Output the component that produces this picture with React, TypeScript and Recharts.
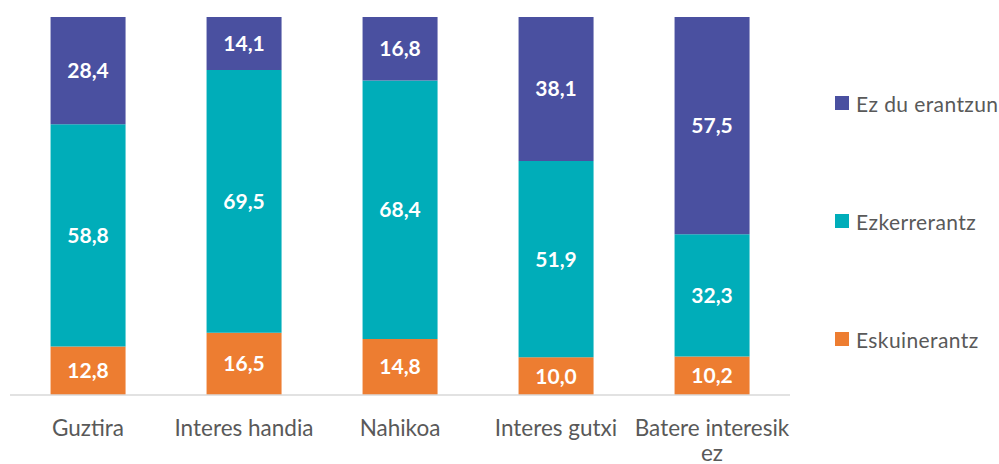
import { BarChart, Bar, XAxis, YAxis, LabelList } from "recharts";

const categories = ["Guztira", "Interes handia", "Nahikoa", "Interes gutxi", "Batere interesik ez"];
const eskuinerantz = [12.8, 16.5, 14.8, 10.0, 10.2];
const ezkerrerantz = [58.8, 69.5, 68.4, 51.9, 32.3];
const ezDuErantzun = [28.4, 14.1, 16.8, 38.1, 57.5];

const seriesNames = ["Ez du erantzun", "Ezkerrerantz", "Eskuinerantz"];
const COLORS: Record<string, string> = {
  "Ez du erantzun": "#4a50a0",
  Ezkerrerantz: "#00adb9",
  Eskuinerantz: "#ed7d31",
};

const FONT = "Lato, 'Open Sans', sans-serif";

const data = categories.map((c, i) => ({
  name: c,
  esk: eskuinerantz[i],
  ezk: ezkerrerantz[i],
  ezd: ezDuErantzun[i],
}));

const fmt = (v: any) => Number(v).toFixed(1).replace(".", ",");

function CatTick({ x, y, payload }: any) {
  // wrap the long label the way the original does
  const lines = payload.value === "Batere interesik ez" ? ["Batere interesik", "ez"] : [payload.value];
  return (
    <text x={x} y={y} textAnchor="middle" fill="#595959" fontSize={22.5} fontFamily={FONT}>
      {lines.map((l: string, i: number) => (
        <tspan key={i} x={x} dy={i === 0 ? 33 : 25}>
          {l}
        </tspan>
      ))}
    </text>
  );
}

function LegendBox() {
  return (
    <div style={{ position: "absolute", left: 835, top: 89, width: 164, fontFamily: FONT, fontSize: 21, color: "#595959" }}>
      {seriesNames.map((n, i) => (
        <div key={n} style={{ display: "flex", alignItems: "center", height: 28, marginTop: i === 0 ? 0 : 90, whiteSpace: "nowrap" }}>
          <span style={{ width: 14, height: 14, flexShrink: 0, background: COLORS[n], display: "inline-block", marginRight: 7 }} />
          <span style={{ letterSpacing: 0.4 }}>{n}</span>
        </div>
      ))}
    </div>
  );
}

export default function App() {
  const labelProps = { fill: "#ffffff", fontSize: 21, fontWeight: 700, fontFamily: FONT };
  return (
    <div style={{ position: "absolute", left: 0, top: 0, width: 999, height: 464, background: "#fff" }}>
      <BarChart width={999} height={464} data={data} margin={{ top: 17, right: 209, left: 10, bottom: 0 }} barCategoryGap="26%">
        <XAxis
          dataKey="name"
          height={69}
          tickLine={false}
          axisLine={{ stroke: "#d9d9d9", strokeWidth: 1.5 }}
          interval={0}
          tick={<CatTick />}
        />
        <YAxis hide domain={[0, 100]} allowDataOverflow />
        <Bar dataKey="esk" name="Eskuinerantz" stackId="a" fill={COLORS.Eskuinerantz} isAnimationActive={false}>
          <LabelList dataKey="esk" position="center" formatter={fmt} {...labelProps} />
        </Bar>
        <Bar dataKey="ezk" name="Ezkerrerantz" stackId="a" fill={COLORS.Ezkerrerantz} isAnimationActive={false}>
          <LabelList dataKey="ezk" position="center" formatter={fmt} {...labelProps} />
        </Bar>
        <Bar dataKey="ezd" name="Ez du erantzun" stackId="a" fill={COLORS["Ez du erantzun"]} isAnimationActive={false}>
          <LabelList dataKey="ezd" position="center" formatter={fmt} {...labelProps} />
        </Bar>
      </BarChart>
      <LegendBox />
    </div>
  );
}
